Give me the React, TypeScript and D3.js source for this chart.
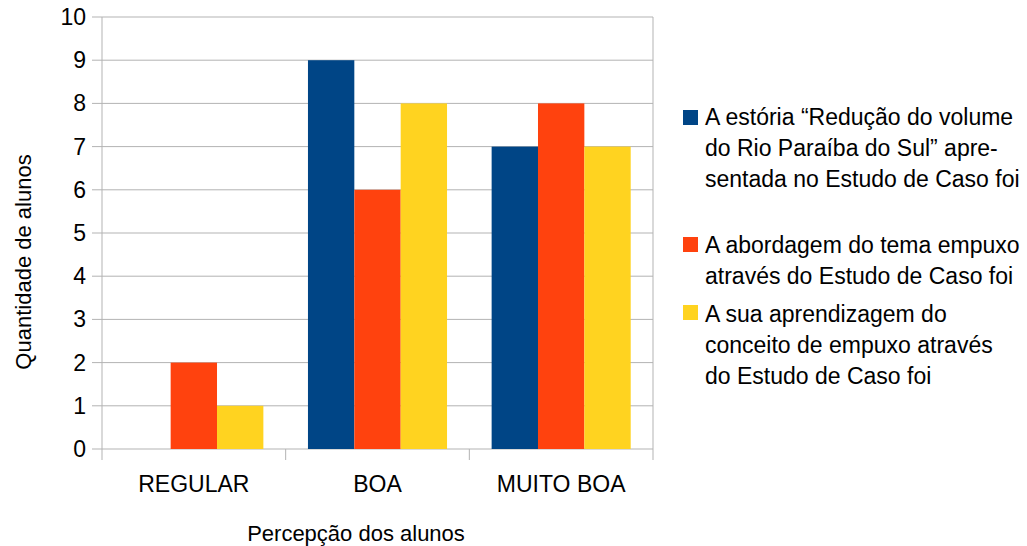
import React from "react";
import * as d3 from "d3";

const categories = ["REGULAR", "BOA", "MUITO BOA"];
const seriesNames = [
  ["A estória “Redução do volume", "do Rio Paraíba do Sul” apre-", "sentada no Estudo de Caso foi"],
  ["A abordagem do tema empuxo", "através do Estudo de Caso foi"],
  ["A sua aprendizagem do", "conceito de empuxo através", "do Estudo de Caso foi"],
];
const seriesColors = ["#004586", "#ff420e", "#ffd320"];
const historiaValues = [0, 9, 7];
const abordagemValues = [2, 6, 8];
const aprendizagemValues = [1, 8, 7];
const series = [historiaValues, abordagemValues, aprendizagemValues];
const yTicks = [0, 1, 2, 3, 4, 5, 6, 7, 8, 9, 10];

const FONT = "'Liberation Sans', Arial, sans-serif";

export default function App() {
  const W = 1027, H = 546;
  const left = 102, right = 653, top = 17, bottom = 449;
  const x = d3.scaleBand<string>().domain(categories).range([left, right]).paddingInner(0).paddingOuter(0);
  const y = d3.scaleLinear().domain([0, 10]).range([bottom, top]);
  const groupPad = 22.3;
  const inner = d3.scaleBand<number>().domain([0, 1, 2]).range([groupPad, x.bandwidth() - groupPad]);

  const legendRows = [
    { sq: 110, baselines: [125, 156, 187] },
    { sq: 237, baselines: [253, 284] },
    { sq: 305, baselines: [322, 353, 384] },
  ];

  return (
    <svg width={W} height={H} style={{ position: "absolute", left: 0, top: 0, background: "#fff" }} fontFamily={FONT}>
      <rect x={0} y={0} width={W} height={H} fill="#fff" />
      {yTicks.map((t) => (
        <g key={t}>
          <line x1={92} x2={right} y1={y(t)} y2={y(t)} stroke="#b3b3b3" strokeWidth={1} />
          <text x={86} y={y(t) + 8} textAnchor="end" fontSize={23} fill="#000">{t}</text>
        </g>
      ))}
      <line x1={left} x2={left} y1={top} y2={bottom + 11} stroke="#b3b3b3" />
      <line x1={right} x2={right} y1={top} y2={bottom + 11} stroke="#b3b3b3" />
      {categories.slice(1).map((c) => (
        <line key={c} x1={x(c)} x2={x(c)} y1={bottom} y2={bottom + 11} stroke="#b3b3b3" />
      ))}
      {series.map((vals, si) =>
        vals.map((v, ci) => {
          const cx = (x(categories[ci]) as number) + (inner(si) as number);
          return v > 0 ? (
            <rect key={`${si}-${ci}`} x={cx} y={y(v)} width={inner.bandwidth()} height={y(0) - y(v)} fill={seriesColors[si]} />
          ) : null;
        })
      )}
      {categories.map((c) => (
        <text key={c} x={(x(c) as number) + x.bandwidth() / 2} y={492} textAnchor="middle" fontSize={23} fill="#000">{c}</text>
      ))}
      <text x={356} y={541} textAnchor="middle" fontSize={22} fill="#000">Percepção dos alunos</text>
      <text transform="translate(31,262) rotate(-90)" textAnchor="middle" fontSize={22} fill="#000">Quantidade de alunos</text>
      {legendRows.map((r, i) => (
        <g key={i}>
          <rect x={683} y={r.sq} width={15} height={15} fill={seriesColors[i]} />
          {seriesNames[i].map((line, li) => (
            <text key={li} x={705} y={r.baselines[li]} fontSize={23} fill="#000">{line}</text>
          ))}
        </g>
      ))}
    </svg>
  );
}
